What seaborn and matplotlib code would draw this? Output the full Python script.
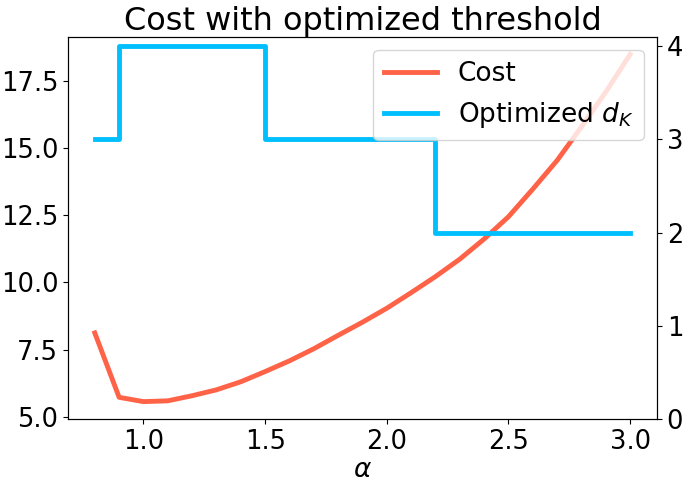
import matplotlib
matplotlib.use("Agg")
import matplotlib.pyplot as plt
import seaborn as sns
import numpy as np

alpha = [0.8, 0.9, 1.0, 1.1, 1.2, 1.3, 1.4, 1.5, 1.6, 1.7, 1.8, 1.9,
         2.0, 2.1, 2.2, 2.3, 2.4, 2.5, 2.6, 2.7, 2.8, 2.9, 3.0]
cost = [8.12, 5.72, 5.56, 5.59, 5.78, 6.0, 6.3, 6.68, 7.08, 7.53, 8.03, 8.52,
        9.04, 9.62, 10.22, 10.87, 11.62, 12.45, 13.48, 14.55, 15.8, 17.1, 18.5]
d_k = [3, 4, 4, 4, 4, 4, 4, 3, 3, 3, 3, 3,
       3, 3, 2, 2, 2, 2, 2, 2, 2, 2, 2]

fig = plt.figure(figsize=(6.85, 4.92), dpi=100)
ax = fig.add_axes([0.0993, 0.1484, 0.8597, 0.7764])
ax2 = ax.twinx()

sns.lineplot(x=alpha, y=cost, ax=ax, color="tomato", linewidth=3.5, label="Cost", legend=False)
sns.lineplot(x=alpha, y=d_k, ax=ax2, color="deepskyblue", linewidth=3.5,
             drawstyle="steps-post", label="Optimized $d_K$", legend=False)

ax2.set_ylim(0, 4.1)
ax2.set_yticks([0, 1, 2, 3, 4])
ax.set_yticks([5.0, 7.5, 10.0, 12.5, 15.0, 17.5])
ax.set_xticks([1.0, 1.5, 2.0, 2.5, 3.0])

ax.tick_params(labelsize=18.5)
ax2.tick_params(labelsize=18.5)
ax.set_xlabel(r"$\alpha$", fontsize=19, labelpad=2)
ax.set_title("Cost with optimized threshold", fontsize=23, pad=5)

h1, l1 = ax.get_legend_handles_labels()
h2, l2 = ax2.get_legend_handles_labels()
ax2.legend(h1 + h2, l1 + l2, loc="upper right", fontsize=19)

fig.savefig("out.png", dpi=100)
